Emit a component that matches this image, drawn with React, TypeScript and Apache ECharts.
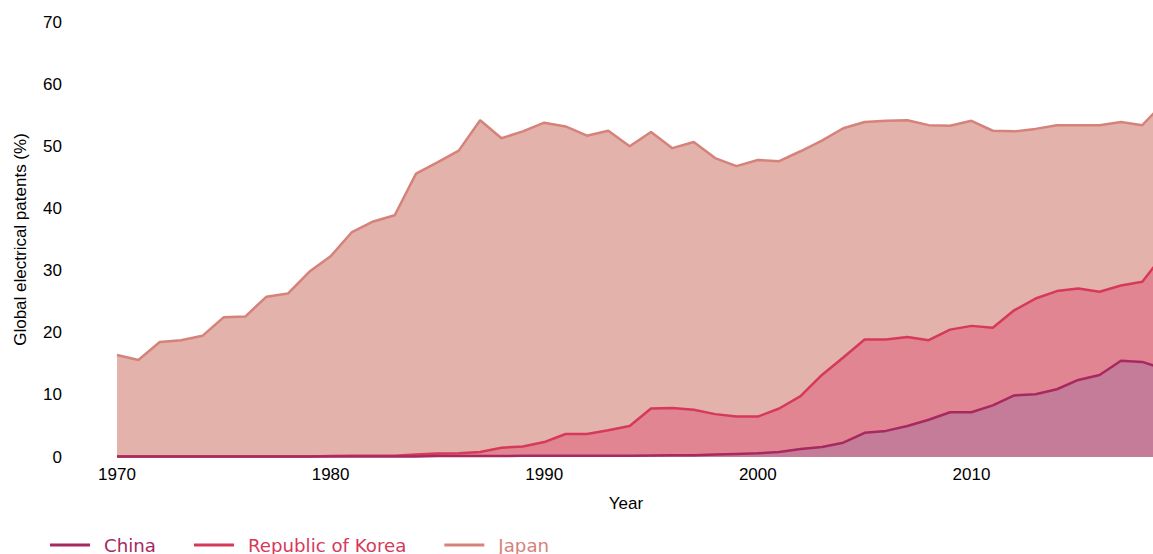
import React, { useEffect, useRef } from "react";
import * as echarts from "echarts";

const years: number[] = [
  1970, 1971, 1972, 1973, 1974, 1975, 1976, 1977, 1978, 1979,
  1980, 1981, 1982, 1983, 1984, 1985, 1986, 1987, 1988, 1989,
  1990, 1991, 1992, 1993, 1994, 1995, 1996, 1997, 1998, 1999,
  2000, 2001, 2002, 2003, 2004, 2005, 2006, 2007, 2008, 2009,
  2010, 2011, 2012, 2013, 2014, 2015, 2016, 2017, 2018, 2019,
];

const japan: number[] = [
  16.4, 15.6, 18.5, 18.8, 19.5, 22.5, 22.6, 25.8, 26.3, 29.8,
  32.3, 36.2, 37.9, 38.9, 45.6, 47.4, 49.3, 54.2, 51.3, 52.4,
  53.8, 53.2, 51.7, 52.5, 50.0, 52.3, 49.7, 50.7, 48.1, 46.8,
  47.8, 47.6, 49.2, 50.9, 52.9, 53.9, 54.1, 54.2, 53.4, 53.3,
  54.1, 52.5, 52.4, 52.8, 53.4, 53.4, 53.4, 53.9, 53.4, 57.0,
];

const korea: number[] = [
  0.1, 0.1, 0.1, 0.1, 0.1, 0.1, 0.1, 0.1, 0.1, 0.1,
  0.15, 0.2, 0.2, 0.2, 0.4, 0.55, 0.6, 0.8, 1.5, 1.7,
  2.4, 3.7, 3.7, 4.3, 5.0, 7.8, 7.9, 7.6, 6.9, 6.5,
  6.5, 7.8, 9.8, 13.2, 16.0, 18.9, 18.9, 19.3, 18.8, 20.5,
  21.1, 20.8, 23.6, 25.5, 26.7, 27.1, 26.6, 27.6, 28.2, 32.6,
];

const china: number[] = [
  0.1, 0.1, 0.1, 0.1, 0.1, 0.1, 0.1, 0.1, 0.1, 0.1,
  0.1, 0.1, 0.1, 0.1, 0.1, 0.15, 0.15, 0.15, 0.15, 0.2,
  0.2, 0.2, 0.2, 0.2, 0.2, 0.25, 0.3, 0.3, 0.4, 0.5,
  0.6, 0.8, 1.3, 1.6, 2.3, 3.9, 4.2, 5.0, 6.0, 7.2,
  7.2, 8.3, 9.9, 10.1, 10.9, 12.4, 13.2, 15.5, 15.3, 14.2,
];

const yTicks: number[] = [0, 10, 20, 30, 40, 50, 60, 70];
const seriesNames: string[] = ["China", "Republic of Korea", "Japan"];

const COLORS = {
  China: { line: "#a8295f", fill: "#c47c99" },
  "Republic of Korea": { line: "#d6395a", fill: "#e28593" },
  Japan: { line: "#d5837a", fill: "#e2b2ab" },
} as Record<string, { line: string; fill: string }>;

const pairs = (vals: number[]) => years.map((y, i) => [y, vals[i]]);

export default function App() {
  const ref = useRef<HTMLDivElement>(null);

  useEffect(() => {
    if (!ref.current) return;
    const chart = echarts.init(ref.current, undefined, { renderer: "svg" });
    const dataMap: Record<string, number[]> = {
      China: china,
      "Republic of Korea": korea,
      Japan: japan,
    };
    const drawOrder = ["Japan", "Republic of Korea", "China"];
    const axisFont = "'Liberation Sans', Arial, sans-serif";
    chart.setOption({
      animation: false,
      backgroundColor: "#ffffff",
      grid: { left: 117, right: 0, top: 22, bottom: 97, containLabel: false },
      legend: {
        left: 45,
        top: 531,
        icon: "rect",
        itemWidth: 40,
        itemHeight: 3,
        itemGap: 38,
        data: seriesNames.map((n) => ({
          name: n,
          textStyle: { color: COLORS[n].line },
        })),
        textStyle: {
          fontFamily: "'DejaVu Sans', sans-serif",
          fontSize: 18.2,
          padding: [0, 0, 0, 9],
        },
      },
      xAxis: {
        type: "value",
        min: 1970,
        max: 2018.5,
        interval: 10,
        name: "Year",
        nameLocation: "middle",
        nameGap: 38,
        nameTextStyle: {
          fontFamily: axisFont,
          fontSize: 17,
          color: "#000",
          padding: [0, 18, 0, 0],
        },
        axisLine: { show: false },
        axisTick: { show: false },
        splitLine: { show: false },
        axisLabel: {
          fontFamily: axisFont,
          fontSize: 17,
          color: "#000",
          margin: 9,
          showMaxLabel: false,
          formatter: (v: number) => String(v),
        },
      },
      yAxis: {
        type: "value",
        min: yTicks[0],
        max: yTicks[yTicks.length - 1],
        interval: 10,
        name: "Global electrical patents (%)",
        nameLocation: "middle",
        nameGap: 88,
        nameTextStyle: { fontFamily: axisFont, fontSize: 17, color: "#000" },
        axisLine: { show: false },
        axisTick: { show: false },
        splitLine: { show: false },
        axisLabel: {
          fontFamily: axisFont,
          fontSize: 17,
          color: "#000",
          margin: 55,
        },
      },
      series: drawOrder.map((n) => ({
        name: n,
        type: "line",
        data: pairs(dataMap[n]),
        symbol: "none",
        clip: true,
        lineStyle: { color: COLORS[n].line, width: 2.5 },
        itemStyle: { color: COLORS[n].line },
        areaStyle: { color: COLORS[n].fill, opacity: 1 },
      })),
    });
    return () => chart.dispose();
  }, []);

  return (
    <div
      ref={ref}
      style={{ position: "fixed", left: 0, top: 0, width: 1153, height: 554 }}
    />
  );
}
